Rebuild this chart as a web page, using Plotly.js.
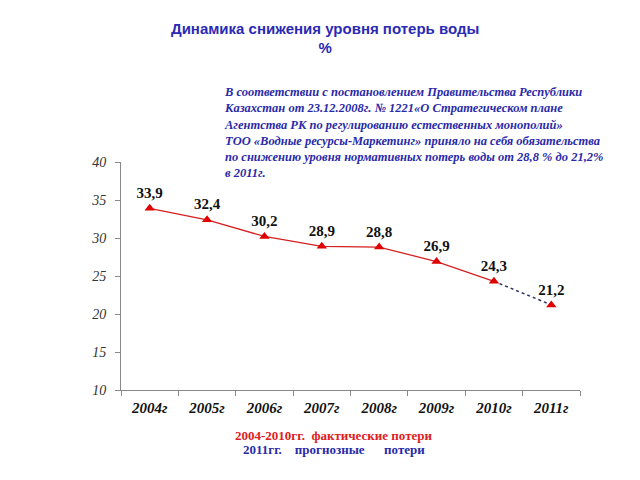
<!DOCTYPE html>
<html>
<head>
<meta charset="utf-8">
<script src="https://cdn.plot.ly/plotly-3.0.1.min.js"></script>
<style>html,body{margin:0;padding:0;background:#fff;}</style>
</head>
<body>
<div id="chart" style="width:640px;height:480px;"></div>
<script>
const years = ["2004г", "2005г", "2006г", "2007г", "2008г", "2009г", "2010г", "2011г"];
const losses = [33.9, 32.4, 30.2, 28.9, 28.8, 26.9, 24.3, 21.2];
const lossLabels = ["33,9", "32,4", "30,2", "28,9", "28,8", "26,9", "24,3", "21,2"];
const actualYears = years.slice(0, 7);
const actualLosses = losses.slice(0, 7);
const forecastYears = years.slice(6);
const forecastLosses = losses.slice(6);

const serif = "Liberation Serif";

const traces = [
  {
    x: actualYears, y: actualLosses, type: "scatter", mode: "lines",
    line: {color: "#d42020", width: 1.3}, showlegend: false
  },
  {
    x: forecastYears, y: forecastLosses, type: "scatter", mode: "lines",
    line: {color: "#33336a", width: 1.5, dash: "dot"}, hoverinfo: "skip", showlegend: false
  },
  {
    x: years, y: losses, type: "scatter", mode: "markers+text",
    marker: {symbol: "triangle-up", size: 9, color: "#e00000"},
    text: lossLabels, textposition: "top center",
    textfont: {family: serif, size: 15, color: "#111", weight: "bold"},
    showlegend: false, cliponaxis: false
  }
];

const layout = {
  width: 640, height: 480,
  margin: {l: 121, r: 60, t: 162, b: 90},
  paper_bgcolor: "#fff", plot_bgcolor: "#fff",
  showlegend: false,
  title: {
    text: "<b>Динамика снижения уровня потерь воды<br>%</b>",
    font: {family: "Liberation Sans", size: 15, color: "#2a2ab4"},
    x: 0.508, xanchor: "center", y: 0.93, yanchor: "top"
  },
  xaxis: {
    type: "category", categoryorder: "array", categoryarray: years, range: [-0.5, 7.5],
    showline: true, linecolor: "#888", linewidth: 1,
    ticks: "outside", tickson: "boundaries", ticklen: 5, tickcolor: "#888",
    showgrid: false, zeroline: false,
    tickfont: {family: serif, size: 15, color: "#111", style: "italic", weight: "bold"},
    ticklabelstandoff: 4
  },
  yaxis: {
    range: [10, 40], dtick: 5,
    showline: true, linecolor: "#888", linewidth: 1,
    ticks: "outside", ticklen: 5, tickcolor: "#888",
    showgrid: false, zeroline: false,
    tickfont: {family: serif, size: 14, color: "#333", style: "italic"},
    ticklabelstandoff: 6
  },
  annotations: [
    {
      xref: "paper", yref: "paper", x: 0.22, y: 1.345, xanchor: "left", yanchor: "top", align: "left",
      text: "<b><i>В соответствии с постановлением Правительства Республики<br>Казахстан от 23.12.2008г. № 1221«О Стратегическом плане<br>Агентства РК по регулированию естественных монополий»<br>ТОО «Водные ресурсы-Маркетинг» приняло на себя обязательства<br>по снижению уровня нормативных потерь воды от 28,8 % до 21,2%<br>в 2011г.</i></b>",
      showarrow: false,
      font: {family: serif, size: 12.5, color: "#2a2aa8"}
    },
    {
      xref: "paper", yref: "paper", x: 0.465, y: -0.2, xanchor: "center", yanchor: "middle",
      text: "<b>2004-2010гг.  фактические потери</b>", showarrow: false,
      font: {family: serif, size: 13, color: "#e02020"}
    },
    {
      xref: "paper", yref: "paper", x: 0.465, y: -0.263, xanchor: "center", yanchor: "middle",
      text: "<b>2011гг.    прогнозные      потери</b>", showarrow: false,
      font: {family: serif, size: 13, color: "#2a2aa8"}
    }
  ]
};

Plotly.newPlot("chart", traces, layout, {displayModeBar: false, staticPlot: true});
</script>
</body>
</html>
